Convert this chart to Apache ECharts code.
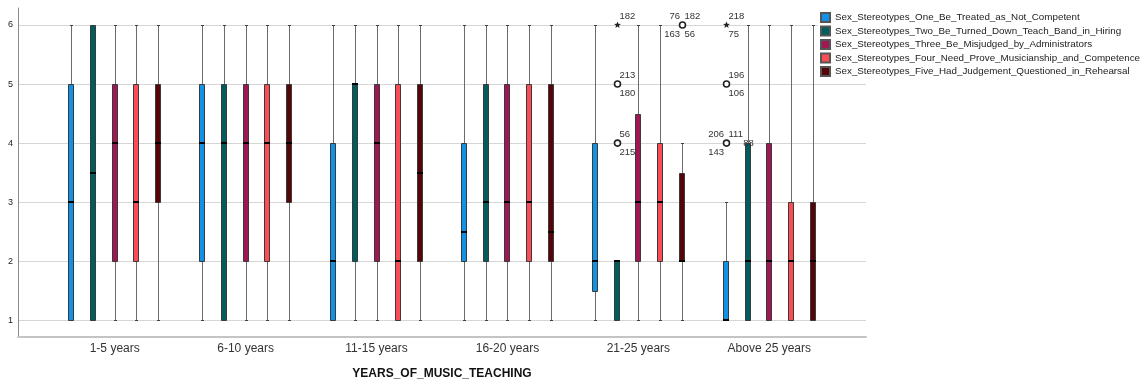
<!DOCTYPE html>
<html><head><meta charset="utf-8">
<script src="https://cdn.jsdelivr.net/npm/echarts@6/dist/echarts.min.js"></script>
<style>html,body{margin:0;padding:0;background:#fff}#c{width:1146px;height:382px}</style>
</head><body><div id="c"></div>
<script>
// ---------------- data ----------------
const categories = ['1-5 years', '6-10 years', '11-15 years', '16-20 years', '21-25 years', 'Above 25 years'];
const seriesNames = [
  'Sex_Stereotypes_One_Be_Treated_as_Not_Competent',
  'Sex_Stereotypes_Two_Be_Turned_Down_Teach_Band_in_Hiring',
  'Sex_Stereotypes_Three_Be_Misjudged_by_Administrators',
  'Sex_Stereotypes_Four_Need_Prove_Musicianship_and_Competence',
  'Sex_Stereotypes_Five_Had_Judgement_Questioned_in_Rehearsal'
];
const seriesColors = ['#1192e8', '#005d5d', '#9f1853', '#fa4d56', '#570408'];
const yTicks = [1, 2, 3, 4, 5, 6];
// each entry: [lower whisker, Q1, median, Q3, upper whisker] per category
const oneTreatedNotCompetent  = [[1,1,3,5,6],[1,2,4,5,6],[1,1,2,4,6],[1,2,2.5,4,6],[1,1.5,2,4,6],[1,1,1,2,3]];
const twoTurnedDownHiring     = [[1,1,3.5,6,6],[1,1,4,5,6],[1,2,5,5,6],[1,2,3,5,6],[1,1,2,2,2],[1,1,2,4,6]];
const threeMisjudgedAdmin     = [[1,2,4,5,6],[1,2,4,5,6],[1,2,4,5,6],[1,2,3,5,6],[1,2,3,4.5,6],[1,1,2,4,6]];
const fourProveMusicianship   = [[1,2,3,5,6],[1,2,4,5,6],[1,1,2,5,6],[1,2,3,5,6],[1,2,3,4,6],[1,1,2,3,6]];
const fiveJudgementRehearsal  = [[1,3,4,5,6],[1,3,4,5,6],[1,2,3.5,5,6],[1,2,2.5,5,6],[1,2,2,3.5,4],[1,1,2,3,6]];
const boxSeriesData = [oneTreatedNotCompetent, twoTurnedDownHiring, threeMisjudgedAdmin, fourProveMusicianship, fiveJudgementRehearsal];
// outliers
const outlierCats   = [4, 4, 4, 4, 5, 5, 5, 5];
const outlierSeries = [1, 1, 1, 4, 0, 0, 0, 1];
const outlierValues = [6, 5, 4, 6, 6, 5, 4, 4];
const outlierKinds  = ['extreme', 'outlier', 'outlier', 'outlier', 'extreme', 'outlier', 'outlier', 'none'];
const outlierIds    = [['182'], ['213', '180'], ['56', '215'], ['76', '182', '163', '56'], ['218', '75'], ['196', '106'], ['206', '111', '143'], ['88']];

// ---------------- rendering ----------------
const FONT = 'Liberation Sans, Arial, sans-serif';
const SPACING = 0.1654; // box spacing as fraction of category band
const Y_MIN = 0.717, Y_MAX = 6.288;

function boxX(api, cat, k) {
  const band = api.size([1, 0])[0];
  return Math.round(api.coord([cat, 1])[0] + (k - 2) * band * SPACING);
}
const hp = v => Math.round(v) + 0.5;

function boxRenderer(k) {
  return function (params, api) {
    const cat = api.value(0);
    const cx = boxX(api, cat, k);
    const y = i => api.coord([cat, api.value(i)])[1];
    const yLow = hp(y(1)), yQ1 = hp(y(2)), yMed = Math.round(y(3)), yQ3 = hp(y(4)), yHigh = hp(y(5));
    const wx = cx + 0.5;
    const ch = [];
    const wStyle = { stroke: '#6b6b6b', lineWidth: 1 };
    const cStyle = { stroke: '#404040', lineWidth: 1 };
    if (yHigh < yQ3 - 0.5) {
      ch.push({ type: 'line', shape: { x1: wx, y1: yHigh, x2: wx, y2: yQ3 }, style: wStyle });
      ch.push({ type: 'line', shape: { x1: cx - 1, y1: yHigh, x2: cx + 2, y2: yHigh }, style: cStyle });
    }
    if (yLow > yQ1 + 0.5) {
      ch.push({ type: 'line', shape: { x1: wx, y1: yQ1, x2: wx, y2: yLow }, style: wStyle });
      ch.push({ type: 'line', shape: { x1: cx - 1, y1: yLow, x2: cx + 2, y2: yLow }, style: cStyle });
    }
    ch.push({ type: 'rect', shape: { x: cx - 2.5, y: yQ3, width: 5, height: Math.max(0, yQ1 - yQ3) },
      style: { fill: seriesColors[k], stroke: '#3a3a3a', lineWidth: 1 } });
    ch.push({ type: 'line', shape: { x1: cx - 3, y1: yMed, x2: cx + 3, y2: yMed }, style: { stroke: '#000', lineWidth: 2 } });
    return { type: 'group', children: ch };
  };
}

function starPoints(cx, cy, R, r) {
  const pts = [];
  for (let i = 0; i < 10; i++) {
    const a = -Math.PI / 2 + i * Math.PI / 5;
    const rad = i % 2 === 0 ? R : r;
    pts.push([cx + rad * Math.cos(a), cy + rad * Math.sin(a)]);
  }
  return pts;
}

const LABEL_LAYOUTS = {
  1: [['r', -1]],
  2: [['r', -1], ['r', 1]],
  3: [['l', -1], ['r', -1], ['l', 1]],
  4: [['l', -1], ['r', -1], ['l', 1], ['r', 1]]
};

function outlierRenderer(params, api) {
  const i = params.dataIndex;
  const cat = api.value(0);
  const cx = boxX(api, cat, outlierSeries[i]) + 0.5;
  const cy = api.coord([cat, api.value(1)])[1];
  const ch = [];
  const kind = outlierKinds[i];
  const ids = outlierIds[i];
  const lf = '9.5px ' + FONT;
  if (kind === 'outlier') {
    ch.push({ type: 'circle', shape: { cx: cx, cy: cy, r: 3 }, style: { fill: '#fff', stroke: '#222', lineWidth: 1.6 } });
  } else if (kind === 'extreme') {
    ch.push({ type: 'polygon', shape: { points: starPoints(cx, cy, 3.6, 1.5) }, style: { fill: '#222' } });
  }
  if (kind === 'none') {
    ch.push({ type: 'text', style: { text: ids[0], x: cx, y: cy, fill: '#333', font: lf, align: 'center', verticalAlign: 'middle' } });
  } else {
    const lay = LABEL_LAYOUTS[ids.length];
    ids.forEach((t, j) => {
      const [side, v] = lay[j];
      ch.push({ type: 'text', style: {
        text: t, x: side === 'r' ? cx + 2 : cx - 2.5, y: cy + v * 9,
        fill: '#333', font: lf, align: side === 'r' ? 'left' : 'right', verticalAlign: 'middle' } });
    });
  }
  return { type: 'group', children: ch };
}

const series = seriesNames.map((name, k) => ({
  name: name,
  type: 'custom',
  xAxisIndex: 0, yAxisIndex: 0,
  itemStyle: { color: seriesColors[k], borderColor: '#555', borderWidth: 1 },
  renderItem: boxRenderer(k),
  encode: { x: 0, y: [1, 2, 3, 4, 5] },
  data: boxSeriesData[k].map((v, i) => [i].concat(v)),
  z: 3
}));
series.push({
  name: 'outliers',
  type: 'custom',
  xAxisIndex: 0, yAxisIndex: 0,
  renderItem: outlierRenderer,
  encode: { x: 0, y: 1 },
  data: outlierCats.map((c, i) => [c, outlierValues[i]]),
  z: 4
});

const chart = echarts.init(document.getElementById('c'), null, { renderer: 'canvas' });
chart.setOption({
  animation: false,
  backgroundColor: '#fff',
  textStyle: { fontFamily: FONT },
  legend: {
    data: seriesNames,
    orient: 'vertical',
    left: 818, top: 10,
    padding: [2, 4, 2, 2],
    backgroundColor: '#fff',
    icon: 'rect',
    itemWidth: 9, itemHeight: 9, itemGap: 2.5,
    selectedMode: false,
    textStyle: { fontSize: 9.8, color: '#222', fontFamily: FONT }
  },
  grid: [
    { left: 49.25, right: 311.25, top: 8, bottom: 45, containLabel: false, outerBoundsMode: 'none' },
    { left: 18, right: 280, top: 8, bottom: 45, containLabel: false, outerBoundsMode: 'none' }
  ],
  xAxis: [
    { type: 'category', gridIndex: 0, data: categories,
      axisLine: { show: false }, axisTick: { show: false },
      axisLabel: { margin: 6, fontSize: 12, color: '#333', fontFamily: FONT },
      splitLine: { show: false } },
    { type: 'value', gridIndex: 1, min: 0, max: 1,
      axisLine: { show: true, onZero: false, lineStyle: { color: '#c4c4c4', width: 2 } },
      axisTick: { show: false }, axisLabel: { show: false }, splitLine: { show: false },
      name: 'YEARS_OF_MUSIC_TEACHING', nameLocation: 'middle', nameGap: 31,
      nameTextStyle: { fontSize: 12, fontWeight: 'bold', color: '#111', fontFamily: FONT } }
  ],
  yAxis: [
    { type: 'value', gridIndex: 0, min: Y_MIN, max: Y_MAX, show: false, splitLine: { show: false } },
    { type: 'value', gridIndex: 1, min: Y_MIN, max: Y_MAX,
      axisLine: { show: true, onZero: false, lineStyle: { color: '#8c8c8c', width: 1 } },
      axisTick: { show: false, customValues: yTicks },
      axisLabel: { customValues: yTicks, margin: 5, fontSize: 9, color: '#222', fontFamily: FONT },
      splitLine: { show: true, lineStyle: { color: '#d6d6d6', width: 1 } } }
  ],
  series: series
});
</script>
</body></html>
